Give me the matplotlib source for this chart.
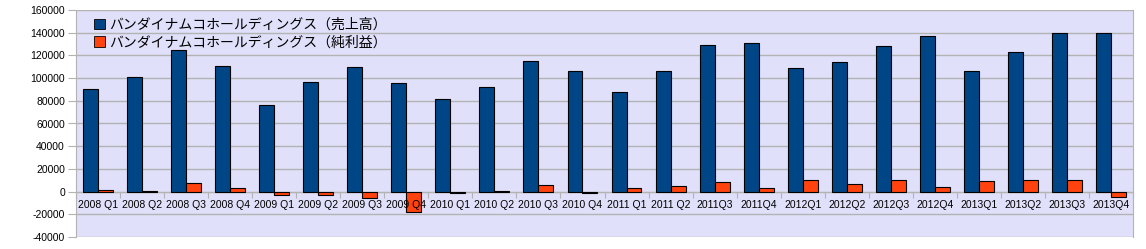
import matplotlib
matplotlib.use("Agg")
import matplotlib.pyplot as plt
import numpy as np
from matplotlib.patches import Patch

# quarter labels as printed on the chart (sic)
quarters = ["2008 Q1", "2008 Q2", "2008 Q3", "2008 Q4",
            "2009 Q1", "2009 Q2", "2009 Q3", "2009 Q4",
            "2010 Q1", "2010 Q2", "2010 Q3", "2010 Q4",
            "2011 Q1", "2011 Q2", "2011Q3", "2011Q4",
            "2012Q1", "2012Q2", "2012Q3", "2012Q4",
            "2013Q1", "2013Q2", "2013Q3", "2013Q4"]

sales = [90000, 101000, 125000, 111000,
         76000, 97000, 110000, 96000,
         82000, 92000, 115000, 106000,
         88000, 106000, 129000, 131000,
         109000, 114000, 128000, 137000,
         106000, 123000, 140000, 140000]

profit = [1000, 500, 7500, 3000,
          -3000, -3200, -6000, -18000,
          -900, 200, 6000, -1500,
          3300, 5000, 8300, 3300,
          10300, 7000, 10600, 4400,
          9500, 10300, 10300, -4700]

series_names = ["バンダイナムコホールディングス（売上高）",
                "バンダイナムコホールディングス（純利益）"]

yticks = list(range(-40000, 160001, 20000))

blue = "#004586"
orange = "#ff420e"
grid_c = "#b3b3b3"

plt.rcParams['font.family'] = ['Liberation Sans', 'Noto Sans CJK JP', 'DejaVu Sans']

fig = plt.figure(figsize=(11.46, 2.49), dpi=100)
ax = fig.add_axes([76 / 1146, 12 / 249, (1133 - 76) / 1146, (237 - 10) / 249])
ax.set_facecolor("#e0e0fa")

x = np.arange(len(quarters))
w = 0.34
ax.bar(x - w / 2, sales, w, color=blue, edgecolor="black", linewidth=0.8, zorder=3)
ax.bar(x + w / 2, profit, w, color=orange, edgecolor="black", linewidth=0.8, zorder=3)

ax.set_xlim(-0.5, len(quarters) - 0.5)
ax.set_ylim(-40000, 160000)
ax.set_yticks(yticks)
ax.set_yticklabels([str(v) for v in yticks], fontsize=7.5)
ax.yaxis.grid(True, color=grid_c, linewidth=1, zorder=0)
ax.tick_params(axis='y', length=6, color=grid_c, pad=2)

# x axis sits on the zero line, category labels drawn over the bars
ax.spines['bottom'].set_position(('data', 0))
ax.spines['bottom'].set_color(grid_c)
ax.set_xticks(np.arange(len(quarters) + 1) - 0.5)
ax.set_xticklabels([])
ax.tick_params(axis='x', which='major', length=4, color=grid_c)
for i, q in enumerate(quarters):
    ax.annotate(q, (i, 0), xytext=(0, -6), textcoords='offset points',
                ha='center', va='top', fontsize=7.5, zorder=6)
for s in ['left', 'right']:
    ax.spines[s].set_color(grid_c)
ax.spines['top'].set_visible(False)

handles = [Patch(facecolor=blue, edgecolor="black", linewidth=0.6),
           Patch(facecolor=orange, edgecolor="black", linewidth=0.6)]
ax.legend(handles, series_names, loc='upper left', bbox_to_anchor=(0.005, 1.02),
          frameon=False, handlelength=0.8, handleheight=0.8,
          handletextpad=0.3, labelspacing=0.25,
          prop={'family': ['Noto Sans CJK JP', 'DejaVu Sans'], 'size': 10})

fig.savefig("out.png", dpi=100)
